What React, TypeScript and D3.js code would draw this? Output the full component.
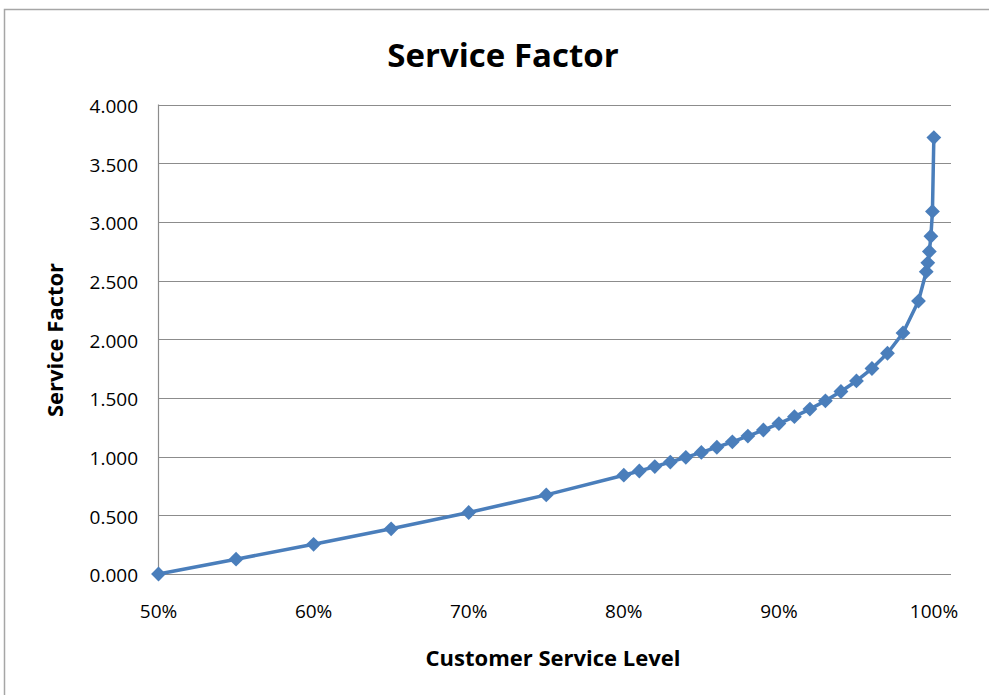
import React from "react";
import * as d3 from "d3";

const serviceLevels = [
  0.5, 0.55, 0.6, 0.65, 0.7, 0.75, 0.8, 0.81, 0.82, 0.83, 0.84, 0.85, 0.86, 0.87, 0.88, 0.89,
  0.9, 0.91, 0.92, 0.93, 0.94, 0.95, 0.96, 0.97, 0.98, 0.99, 0.995, 0.996, 0.997, 0.998, 0.999, 0.9999,
];
const serviceFactors = [
  0.0, 0.126, 0.253, 0.385, 0.524, 0.674, 0.842, 0.878, 0.915, 0.954, 0.994, 1.036, 1.08, 1.126, 1.175, 1.227,
  1.282, 1.341, 1.405, 1.476, 1.555, 1.645, 1.751, 1.881, 2.054, 2.326, 2.576, 2.652, 2.748, 2.878, 3.09, 3.719,
];
const xTicks = [0.5, 0.6, 0.7, 0.8, 0.9, 1.0];
const yTicks = [0, 0.5, 1, 1.5, 2, 2.5, 3, 3.5, 4];

const W = 989;
const H = 695;
const FONT = "'Open Sans', 'Noto Sans', sans-serif";

export default function App() {
  const x = d3.scaleLinear().domain([0.5, 1.0]).range([158.5, 934]);
  const y = d3.scaleLinear().domain([0, 4]).range([574, 104.6]);
  const plotRight = 951;
  const data = serviceLevels.map((s, i) => ({ s, v: serviceFactors[i] }));
  const line = d3
    .line<{ s: number; v: number }>()
    .x((d) => x(d.s))
    .y((d) => y(d.v));
  const diamond = d3.symbol(d3.symbolDiamond2, 140)() as string;
  const blue = "#4A7EBB";

  return (
    <svg
      width={W}
      height={H}
      style={{ position: "absolute", left: 0, top: 0, background: "#fff" }}
      fontFamily={FONT}
    >
      <rect x={0} y={0} width={W} height={H} fill="#fff" />
      <rect x={4.5} y={9.5} width={W + 20} height={H + 20} fill="#fff" stroke="#a6a6a6" strokeWidth={1.5} />
      <text x={503} y={67} textAnchor="middle" fontSize={33} fontWeight={700} fill="#000">
        Service Factor
      </text>
      {yTicks.map((t) => (
        <g key={t}>
          <line x1={x(0.5)} x2={plotRight} y1={Math.round(y(t)) + 0.5} y2={Math.round(y(t)) + 0.5} stroke="#8c8c8c" strokeWidth={1.2} />
          <text x={138} y={y(t) + 1.5} dy="0.36em" textAnchor="end" fontSize={19} fontWeight={500} fill="#000">
            {d3.format(".3f")(t)}
          </text>
        </g>
      ))}
      <line x1={x(0.5)} x2={x(0.5)} y1={y(4)} y2={y(0)} stroke="#8c8c8c" strokeWidth={1.2} />
      {xTicks.map((t) => (
        <text key={t} x={x(t)} y={611} dy="0.36em" textAnchor="middle" fontSize={19} fontWeight={500} fill="#000">
          {d3.format(".0%")(t)}
        </text>
      ))}
      <path d={line(data) as string} fill="none" stroke={blue} strokeWidth={3.5} strokeLinejoin="round" />
      {data.map((d, i) => (
        <path key={i} d={diamond} transform={`translate(${x(d.s)},${y(d.v)})`} fill={blue} />
      ))}
      <text x={553} y={658} dy="0.36em" textAnchor="middle" fontSize={22} fontWeight={700} fill="#000">
        Customer Service Level
      </text>
      <text
        transform={`translate(55,340) rotate(-90)`}
        dy="0.36em"
        textAnchor="middle"
        fontSize={22}
        fontWeight={700}
        fill="#000"
      >
        Service Factor
      </text>
    </svg>
  );
}
